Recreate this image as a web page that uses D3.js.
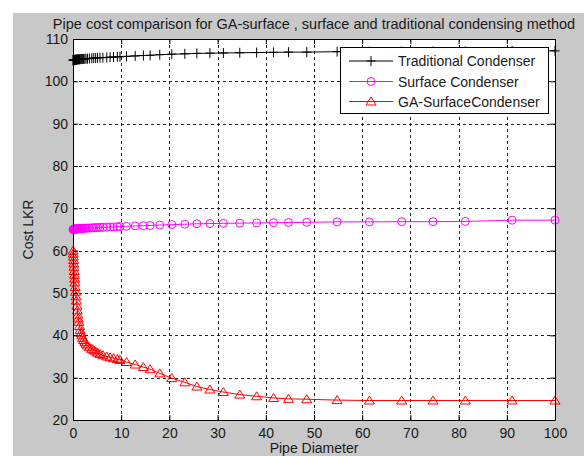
<!DOCTYPE html>
<html>
<head>
<meta charset="utf-8">
<script src="https://cdn.jsdelivr.net/npm/d3@7"></script>
<style>
  html, body { margin: 0; padding: 0; background: #fff; }
  svg { display: block; }
  text { font-family: "Liberation Sans", Arial, sans-serif; fill: #1a1a1a; }
</style>
</head>
<body>
<svg id="chart" width="584" height="456"></svg>
<script>
// ---------- data ----------
const titleText = "Pipe cost comparison for GA-surface , surface and traditional condensing method";
const xLabel = "Pipe Diameter";
const yLabel = "Cost LKR";
const xTicks = [0, 10, 20, 30, 40, 50, 60, 70, 80, 90, 100];
const yTicks = [20, 30, 40, 50, 60, 70, 80, 90, 100, 110];

const diameters = [0.02, 0.05, 0.08, 0.12, 0.16, 0.2, 0.25, 0.3, 0.35, 0.4, 0.47, 0.54, 0.62, 0.7, 0.8, 0.9,
  1.0, 1.1, 1.2, 1.35, 1.5, 1.65, 1.8, 2.0, 2.2, 2.45, 2.7, 3.0, 3.4, 3.9, 4.3, 4.7, 5.1, 5.6, 6.2, 7.0,
  7.7, 8.4, 9.2, 9.75, 11.1, 12.9, 14.6, 16.0, 18.0, 20.5, 23.2, 25.7, 28.4, 31.2, 34.6, 38.1, 41.6,
  44.7, 48.5, 54.8, 61.5, 68.2, 74.7, 81.4, 91.1, 100];

const traditional = [105.0, 105.0, 105.0, 105.0, 105.0, 105.0, 105.0, 105.05, 105.05, 105.05, 105.1, 105.1,
  105.1, 105.1, 105.15, 105.15, 105.2, 105.2, 105.2, 105.2, 105.25, 105.25, 105.25, 105.3, 105.3, 105.3,
  105.35, 105.35, 105.4, 105.45, 105.5, 105.5, 105.55, 105.6, 105.6, 105.65, 105.7, 105.75, 105.8, 105.8,
  105.9, 106.0, 106.1, 106.15, 106.3, 106.4, 106.5, 106.6, 106.65, 106.7, 106.75, 106.8, 106.85, 106.9,
  106.9, 107.0, 107.0, 107.05, 107.05, 107.1, 107.2, 107.2];

const surface = [65.0, 65.0, 65.0, 65.0, 65.0, 65.05, 65.05, 65.05, 65.05, 65.1, 65.1, 65.1, 65.1, 65.1,
  65.15, 65.15, 65.15, 65.2, 65.2, 65.2, 65.2, 65.25, 65.25, 65.25, 65.3, 65.3, 65.3, 65.35, 65.35, 65.4,
  65.4, 65.45, 65.45, 65.5, 65.5, 65.55, 65.6, 65.6, 65.65, 65.7, 65.75, 65.85, 65.9, 65.95, 66.05, 66.15,
  66.25, 66.35, 66.4, 66.45, 66.5, 66.55, 66.6, 66.65, 66.7, 66.8, 66.8, 66.85, 66.85, 66.9, 67.2, 67.2];

const gaSurface = [60.0, 59.3, 58.6, 57.8, 57.0, 56.2, 55.2, 54.3, 53.4, 52.5, 51.4, 50.3, 49.2, 48.2, 47.0,
  45.9, 44.9, 44.0, 43.2, 42.2, 41.3, 40.6, 40.0, 39.4, 38.9, 38.4, 38.0, 37.6, 37.2, 36.8, 36.5, 36.2,
  35.9, 35.6, 35.3, 35.0, 34.8, 34.6, 34.4, 34.2, 33.7, 33.1, 32.5, 32.0, 31.0, 29.9, 28.9, 27.9, 27.2,
  26.6, 26.0, 25.6, 25.2, 25.0, 24.9, 24.7, 24.6, 24.6, 24.6, 24.6, 24.6, 24.6];

const seriesNames = ["Traditional Condenser", "Surface Condenser", "GA-SurfaceCondenser"];
const seriesColors = ["#000000", "#ff00ff", "#ff0000"];
const seriesMarkers = ["plus", "circle", "triangle"];
const seriesValues = [traditional, surface, gaSurface];

// ---------- layout ----------
const svg = d3.select("#chart");
const W = 584, H = 456;
const plot = { left: 73, right: 555, top: 39, bottom: 420 };

svg.append("rect").attr("x", 13).attr("y", 13).attr("width", W - 13).attr("height", H - 13)
  .attr("fill", "#c8c8c8");
svg.append("rect").attr("x", plot.left).attr("y", plot.top)
  .attr("width", plot.right - plot.left).attr("height", plot.bottom - plot.top).attr("fill", "#fff");

const x = d3.scaleLinear().domain([0, 100]).range([plot.left, plot.right]);
const y = d3.scaleLinear().domain([20, 110]).range([plot.bottom, plot.top]);

// grid
const grid = svg.append("g").attr("class", "grid");
grid.selectAll("line.vx").data(xTicks.slice(1, -1)).join("line")
  .attr("x1", d => Math.round(x(d)) + 0.5).attr("x2", d => Math.round(x(d)) + 0.5)
  .attr("y1", plot.top).attr("y2", plot.bottom);
grid.selectAll("line.hy").data(yTicks.slice(1, -1)).join("line")
  .attr("y1", d => Math.round(y(d)) + 0.5).attr("y2", d => Math.round(y(d)) + 0.5)
  .attr("x1", plot.left).attr("x2", plot.right);
grid.selectAll("line").attr("stroke", "#222").attr("stroke-width", 1).attr("stroke-dasharray", "3,3");

// series
const markerPath = {
  plus: "M-4.5,0H4.5M0,-5V5",
  circle: d3.symbol().type(d3.symbolCircle).size(Math.PI * 16)(),
  triangle: "M0,-4.5L5,3.5L-5,3.5Z"
};

const lineGen = d3.line().x(d => x(d[0])).y(d => y(d[1]));
seriesValues.forEach((vals, i) => {
  const pts = diameters.map((d, j) => [d, vals[j]]);
  const g = svg.append("g");
  g.append("path").datum(pts).attr("d", lineGen).attr("fill", "none")
    .attr("stroke", seriesColors[i]).attr("stroke-width", 1);
  g.selectAll("path.m").data(pts).join("path").attr("class", "m")
    .attr("transform", d => `translate(${x(d[0])},${y(d[1])})`)
    .attr("d", markerPath[seriesMarkers[i]])
    .attr("fill", "none").attr("stroke", seriesColors[i]).attr("stroke-width", 1);
});

// axes
const axB = d3.axisBottom(x).tickValues(xTicks).tickSize(-5).tickSizeOuter(0).tickPadding(8);
const axT = d3.axisTop(x).tickValues(xTicks).tickSize(-5).tickSizeOuter(0).tickFormat("");
const axL = d3.axisLeft(y).tickValues(yTicks).tickSize(-5).tickSizeOuter(0).tickPadding(5);
const axR = d3.axisRight(y).tickValues(yTicks).tickSize(-5).tickSizeOuter(0).tickFormat("");

function styleAxis(g) {
  g.selectAll("path.domain").attr("stroke", "#000").attr("stroke-width", 1);
  g.selectAll(".tick line").attr("stroke", "#000");
  g.selectAll("text").attr("font-size", 14).attr("fill", "#1a1a1a")
    .attr("font-family", "'Liberation Sans', Arial, sans-serif");
}
svg.append("g").attr("transform", `translate(0,${plot.bottom})`).call(axB).call(styleAxis);
svg.append("g").attr("transform", `translate(0,${plot.top})`).call(axT).call(styleAxis);
svg.append("g").attr("transform", `translate(${plot.left},0)`).call(axL).call(styleAxis);
svg.append("g").attr("transform", `translate(${plot.right},0)`).call(axR).call(styleAxis);

// titles
svg.append("text").attr("x", (plot.left + plot.right) / 2).attr("y", 28.5)
  .attr("text-anchor", "middle").attr("font-size", 14.5).text(titleText);
svg.append("text").attr("x", (plot.left + plot.right) / 2).attr("y", 453)
  .attr("text-anchor", "middle").attr("font-size", 14).text(xLabel);
svg.append("text").attr("transform", `translate(33,${(plot.top + plot.bottom) / 2}) rotate(-90)`)
  .attr("text-anchor", "middle").attr("font-size", 14).text(yLabel);

// legend
const leg = svg.append("g");
leg.append("rect").attr("x", 340.5).attr("y", 47.5).attr("width", 208).attr("height", 66)
  .attr("fill", "#fff").attr("stroke", "#000").attr("stroke-width", 1);
const rowY = [61, 81.5, 101.5];
seriesNames.forEach((name, i) => {
  const ry = rowY[i];
  leg.append("line").attr("x1", 349).attr("x2", 393).attr("y1", ry).attr("y2", ry)
    .attr("stroke", seriesColors[i]).attr("stroke-width", 1);
  leg.append("path").attr("transform", `translate(371,${ry})`).attr("d", markerPath[seriesMarkers[i]])
    .attr("fill", "none").attr("stroke", seriesColors[i]).attr("stroke-width", 1);
  leg.append("text").attr("x", 398).attr("y", ry + 5).attr("font-size", 14).text(name);
});
</script>
</body>
</html>
